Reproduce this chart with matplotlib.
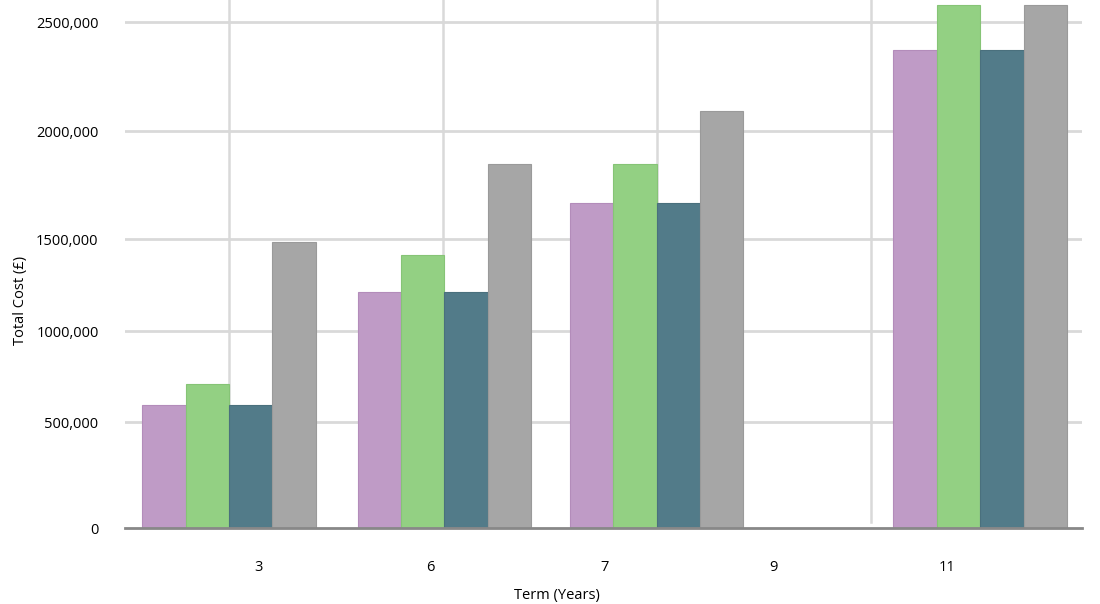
import numpy as np
import matplotlib
matplotlib.use('Agg')
import matplotlib.pyplot as plt

# data
terms = ['3', '6', '7', '9', '11']
series_a = [594000, 1212000, 1667000, 0, 2372000]   # purple
series_b = [711000, 1413000, 1847000, 0, 2578000]   # green
series_c = [594000, 1212000, 1667000, 0, 2372000]   # teal
series_d = [1485000, 1847000, 2092000, 0, 2578000]  # grey

ytick_vals = [0, 500000, 1000000, 1500000, 2000000, 2500000]
ytick_labels = ['0', '500,000', '1000,000', '1500,000', '2000,000', '2500,000']

# the original axis is not linear: pixel heights of the tick marks above the baseline
tick_heights = [0, 106, 197, 289, 397, 506, 615]
tick_knots = ytick_vals + [3000000]

def fwd(v):
    return np.interp(v, tick_knots, tick_heights)

def inv(h):
    return np.interp(h, tick_heights, tick_knots)

# layout: slot position of each group and of each tick label
group_pos = [0.0, 1.007, 1.998, 3.0, 3.51]
label_pos = [0.14, 0.94, 1.755, 2.545, 3.355]
vgrid_pos = [0.0, 1.0, 2.0, 3.0]
bar_w = 0.203

colors = ['#bf9bc6', '#93d083', '#527b89', '#a6a6a6']
edges = ['#b38cba', '#86c476', '#4a707d', '#9a9a9a']

plt.rcParams['font.family'] = ['Open Sans', 'DejaVu Sans']

fig = plt.figure(figsize=(11, 6.04), dpi=100)
ax = fig.add_axes([125/1100, 76/604, 957/1100, 528/604])
ax.set_yscale('function', functions=(fwd, inv))

x = np.array(group_pos)
allser = [series_a, series_b, series_c, series_d]
for k, s in enumerate(allser):
    ax.bar(x + (k - 1.5)*bar_w, s, width=bar_w, color=colors[k],
           edgecolor=edges[k], linewidth=0.8, zorder=3)

ax.set_xlim(-0.486, 3.986)
ax.set_ylim(0, 2601000)

for yv in ytick_vals[1:]:
    ax.axhline(yv, color='#d9d9d9', lw=2, zorder=1)
for i, xv in enumerate(vgrid_pos):
    ax.axvline(xv, ymin=0.005 if i < 3 else 0.012, color='#d9d9d9', lw=1.8, zorder=1)

ax.set_yticks(ytick_vals)
ax.set_yticklabels(ytick_labels)
ax.set_xticks(label_pos)
ax.set_xticklabels(terms)
ax.tick_params(axis='y', length=0, pad=19, labelsize=10.5, labelcolor='black')
ax.tick_params(axis='x', length=0, pad=23, labelsize=10.5, labelcolor='black')

for sp in ['top', 'right', 'left']:
    ax.spines[sp].set_visible(False)
ax.spines['bottom'].set_color('#888888')
ax.spines['bottom'].set_linewidth(2)
ax.spines['bottom'].set_zorder(4)

fig.text(21/1100, 1 - 300/604, 'Total Cost (£)', rotation=90, ha='center', va='center', fontsize=10.5)
fig.text(557/1100, 1 - 595/604, 'Term (Years)', ha='center', va='center', fontsize=10.5)

fig.savefig('out.png', dpi=100)
